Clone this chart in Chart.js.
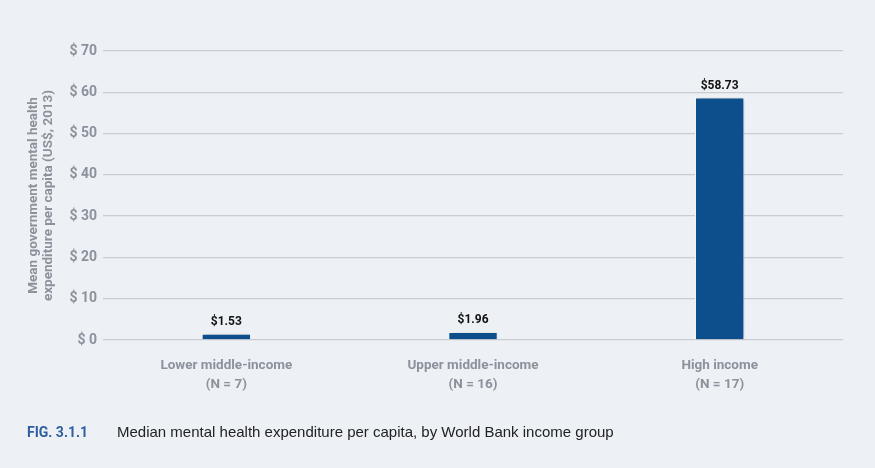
<!DOCTYPE html>
<html>
<head>
<meta charset="utf-8">
<script src="https://cdn.jsdelivr.net/npm/chart.js@4"></script>
<style>
  html, body { margin: 0; padding: 0; background: #edf1f6; }
  #wrap { position: relative; width: 875px; height: 468px; }
  #caption { position: absolute; left: 27px; top: 423px; font-family: 'Liberation Sans', Arial, sans-serif; font-size: 15px; color: #222; white-space: nowrap; }
  #caption b { color: #2b5f9e; display: inline-block; width: 90px; font-family: Roboto, 'Liberation Sans', sans-serif; font-size: 14px; }
</style>
</head>
<body>
<div id="wrap">
  <canvas id="chart" width="875" height="468"></canvas>
  <div id="caption"><b>FIG. 3.1.1</b>Median mental health expenditure per capita, by World Bank income group</div>
</div>
<script>
const categories = [['Lower middle-income', '(N = 7)'], ['Upper middle-income', '(N = 16)'], ['High income', '(N = 17)']];
const spending = [1.53, 1.96, 58.73];
const yTicks = [0, 10, 20, 30, 40, 50, 60, 70];
const axisTitle = ['Mean government mental health', 'expenditure per capita (US$, 2013)'];

const narrow = "Roboto, 'Liberation Sans', sans-serif";
const grey = '#8b929b';

// etiquetas de valor encima de cada barra
const valueLabels = {
  id: 'valueLabels',
  afterDatasetsDraw(chart) {
    const ctx = chart.ctx;
    const meta = chart.getDatasetMeta(0);
    ctx.save();
    ctx.font = 'bold 12px ' + narrow;
    ctx.fillStyle = '#111';
    ctx.textAlign = 'center';
    ctx.textBaseline = 'bottom';
    meta.data.forEach((bar, i) => {
      ctx.fillText('$' + spending[i].toFixed(2), bar.x, bar.y - 6);
    });
    ctx.restore();
  }
};

// sombra suave de las barras
const barShadow = {
  id: 'barShadow',
  beforeDatasetsDraw(chart) {
    chart.ctx.save();
    chart.ctx.shadowColor = 'rgba(0,0,0,0.25)';
    chart.ctx.shadowBlur = 6;
    chart.ctx.shadowOffsetX = 2;
  },
  afterDatasetsDraw(chart) {
    chart.ctx.restore();
  }
};

new Chart(document.getElementById('chart'), {
  type: 'bar',
  data: {
    labels: categories,
    datasets: [{
      data: spending,
      backgroundColor: '#0d4e8d',
      borderColor: '#ffffff',
      borderWidth: 1,
      barPercentage: 0.2,
      categoryPercentage: 1
    }]
  },
  options: {
    responsive: false,
    animation: false,
    events: [],
    layout: { padding: { top: 51, right: 32, bottom: 68, left: 0 } },
    plugins: { legend: { display: false }, tooltip: { enabled: false } },
    scales: {
      x: {
        grid: { display: false },
        border: { display: false },
        ticks: {
          color: grey,
          font: { family: narrow, size: 13.5, weight: 'bold', lineHeight: 1.4 },
          padding: 8,
          maxRotation: 0
        },
        afterFit(scale) { scale.height = 60; }
      },
      y: {
        min: 0,
        max: 70,
        afterBuildTicks(scale) { scale.ticks = yTicks.map(v => ({ value: v })); },
        grid: { color: '#c9cdd2', lineWidth: 1.3, drawTicks: false },
        border: { display: false },
        ticks: {
          color: grey,
          font: { family: narrow, size: 14, weight: 'bold' },
          padding: 6,
          callback: v => '$ ' + v
        },
        title: {
          display: true,
          text: axisTitle,
          color: grey,
          font: { family: narrow, size: 13.5, weight: 'bold', lineHeight: 1.1 },
          padding: { top: 26, bottom: 0 }
        },
        afterFit(scale) { scale.width = 103; }
      }
    }
  },
  plugins: [barShadow, valueLabels]
});
</script>
</body>
</html>
